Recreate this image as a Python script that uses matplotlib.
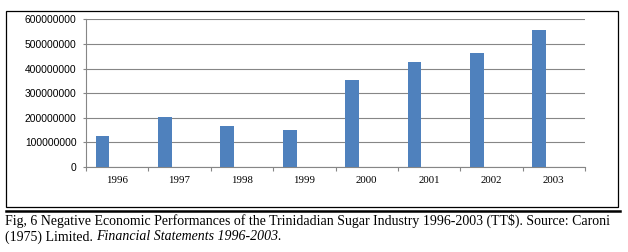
import matplotlib
matplotlib.use("Agg")
import matplotlib.pyplot as plt
from matplotlib.patches import Rectangle
from matplotlib.lines import Line2D
import numpy as np

# ── Data ──────────────────────────────────────────────────────────────────────
years = ["1996", "1997", "1998", "1999", "2000", "2001", "2002", "2003"]
losses = [126e6, 203e6, 167e6, 149e6, 352e6, 426e6, 462e6, 556e6]
y_ticks = [0, 100e6, 200e6, 300e6, 400e6, 500e6, 600e6]

W, H = 628, 252
BAR = "#4F81BD"
GRID = "#868686"

fig = plt.figure(figsize=(W / 100, H / 100), dpi=100)
fig.patch.set_facecolor("white")

# chart frame + rule under it
fig.add_artist(Rectangle((6 / W, 1 - 206.5 / H), 612 / W, 195.5 / H,
                         transform=fig.transFigure, fill=False,
                         edgecolor="black", linewidth=0.9))
fig.add_artist(Line2D([6 / W, 620 / W], [1 - 210.5 / H] * 2,
                      transform=fig.transFigure, color="black", linewidth=1.8))

ax = fig.add_axes([86 / W, 1 - 167 / H, 499 / W, (167 - 19.3) / H])
idx = np.arange(len(years))
ax.bar(idx + 0.265, losses, width=0.22, color=BAR, edgecolor="none", zorder=3)

ax.set_xlim(0, len(years))
ax.set_ylim(0, 600e6)
ax.set_yticks(y_ticks)
ax.set_yticklabels([f"{int(v)}" for v in y_ticks],
                   fontfamily="Liberation Sans", fontsize=7.4)
ax.set_xticks(np.arange(len(years) + 1))
ax.set_xticklabels([])
ax.set_xticks(idx + 0.5, minor=True)
ax.set_xticklabels(years, minor=True, fontfamily="Liberation Serif", fontsize=7.8)
ax.tick_params(axis="x", which="minor", length=0, pad=6.5)
ax.tick_params(axis="x", which="major", length=2.6, color=GRID, width=0.8)
ax.tick_params(axis="y", length=2.2, color=GRID, width=0.8, pad=4.5)

ax.grid(axis="y", color=GRID, linewidth=0.8, zorder=0)
for s in ["top", "right"]:
    ax.spines[s].set_visible(False)
for s in ["left", "bottom"]:
    ax.spines[s].set_color(GRID)
    ax.spines[s].set_linewidth(0.8)

# ── Caption ───────────────────────────────────────────────────────────────────
cap_kw = dict(fontfamily="Liberation Serif", fontsize=10, va="center",
              transform=fig.transFigure)
fig.text(5 / W, 1 - 221 / H,
         "Fig, 6 Negative Economic Performances of the Trinidadian Sugar "
         "Industry 1996-2003 (TT$). Source: Caroni", **cap_kw)
t2 = fig.text(5 / W, 1 - 237 / H, "(1975) Limited. ", **cap_kw)
fig.canvas.draw()
bb = t2.get_window_extent()
fig.text(bb.x1 / W, 1 - 237 / H, "Financial Statements 1996-2003.",
         style="italic", **cap_kw)

fig.savefig("out.png", dpi=100, facecolor="white")
